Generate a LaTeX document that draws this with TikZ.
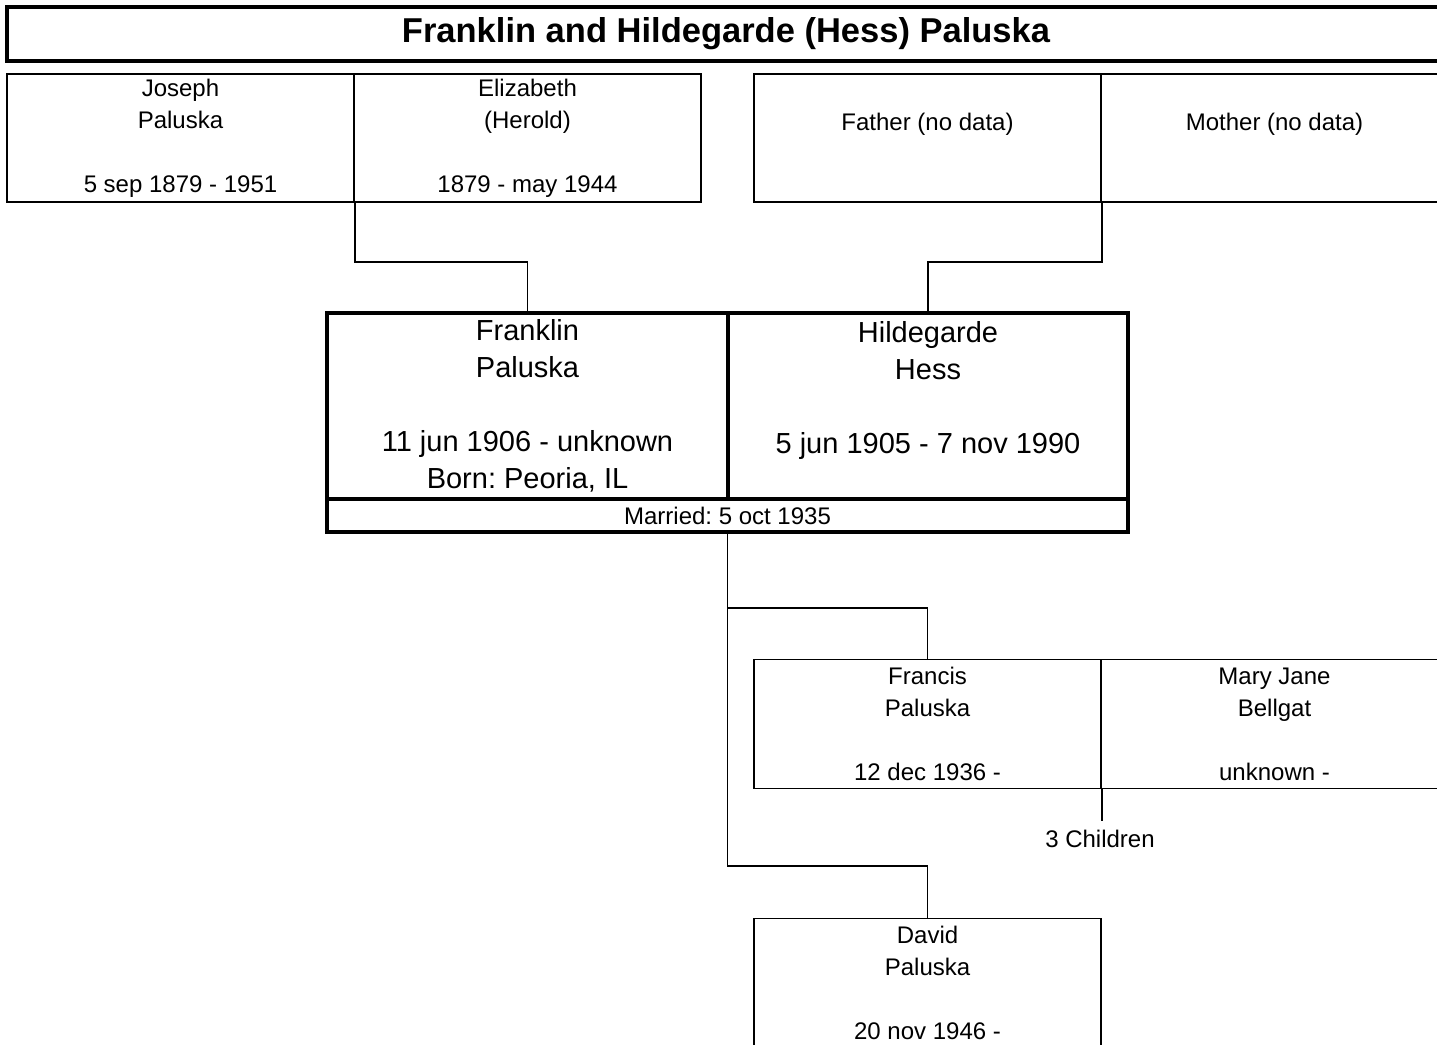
\documentclass[tikz,border=0pt]{standalone}
\usepackage{fontspec}
\setmainfont{Liberation Sans}
\usepackage{tikz}
\usetikzlibrary{positioning,calc}
\frenchspacing

\begin{document}
\begin{tikzpicture}[x=1pt, y=-1pt,
  person/.style={draw, line width=1.8pt, inner sep=0pt, align=center,
    minimum width=347pt, minimum height=128pt, font=\fontsize{24}{32}\selectfont},
  couple/.style={draw, line width=3.2pt, inner sep=0pt, align=center,
    minimum height=186pt, font=\fontsize{29}{37}\selectfont},
  link/.style={line width=1.8pt}]
\useasboundingbox (0,0) rectangle (1437,1044);
% title
\node (title) [draw, line width=3.5pt, minimum width=1438pt, minimum height=54pt,
  inner sep=0pt, font=\bfseries\fontsize{34.5}{40}\selectfont] at (726,34)
  {\raisebox{-2pt}{Franklin and Hildegarde (Hess) Paluska}};
% grandparents
\node (joseph) [person] at (180.5,138) {Joseph\\Paluska\\~\\5 sep 1879 - 1951};
\node (elizabeth) [person] at (527.5,138) {Elizabeth\\(Herold)\\~\\1879 - may 1944};
\node (father) [person] at (927.5,138) {\raisebox{14pt}[\height][\depth]{Father (no data)}};
\node (mother) [person] at (1274.5,138) {\raisebox{14pt}[\height][\depth]{Mother (no data)}};
% couple
\node (franklin) [couple, minimum width=401pt] at (527.5,406)
  {Franklin\\Paluska\\~\\11 jun 1906 - unknown\\Born: Peoria, IL};
\node (hildegarde) [couple, minimum width=400pt] at (928,406)
  {Hildegarde\\Hess\\~\\5 jun 1905 - 7 nov 1990\\~};
\node (married) [draw, line width=3.2pt, minimum width=801pt, minimum height=33pt,
  inner sep=0pt, font=\fontsize{24}{32}\selectfont] at (727.5,515.5) {Married: 5 oct 1935};
% children
\node (francis) [person, minimum height=129pt] at (927.5,724) {Francis\\Paluska\\~\\12 dec 1936 -};
\node (maryjane) [person, minimum height=129pt] at (1274.5,724) {Mary Jane\\Bellgat\\~\\unknown -};
\node (children) [inner sep=0pt, font=\fontsize{24}{32}\selectfont, anchor=north] at (1100,830) {3 Children};
\node (david) [person, minimum height=129pt] at (927.5,983) {David\\Paluska\\~\\20 nov 1946 -};
% lines
\draw[link] (joseph.south east) -- ++(0,59) -| (franklin.north);
\draw[link] (father.south east) -- ++(0,59) -| (hildegarde.north);
\draw[link] (married.south) -- ++(0,74) coordinate (branch) -| (francis.north);
\draw[link] (branch) -- ++(0,258) -| (david.north);
\draw[link] (francis.south east) -- ++(0,32);
\end{tikzpicture}
\end{document}
